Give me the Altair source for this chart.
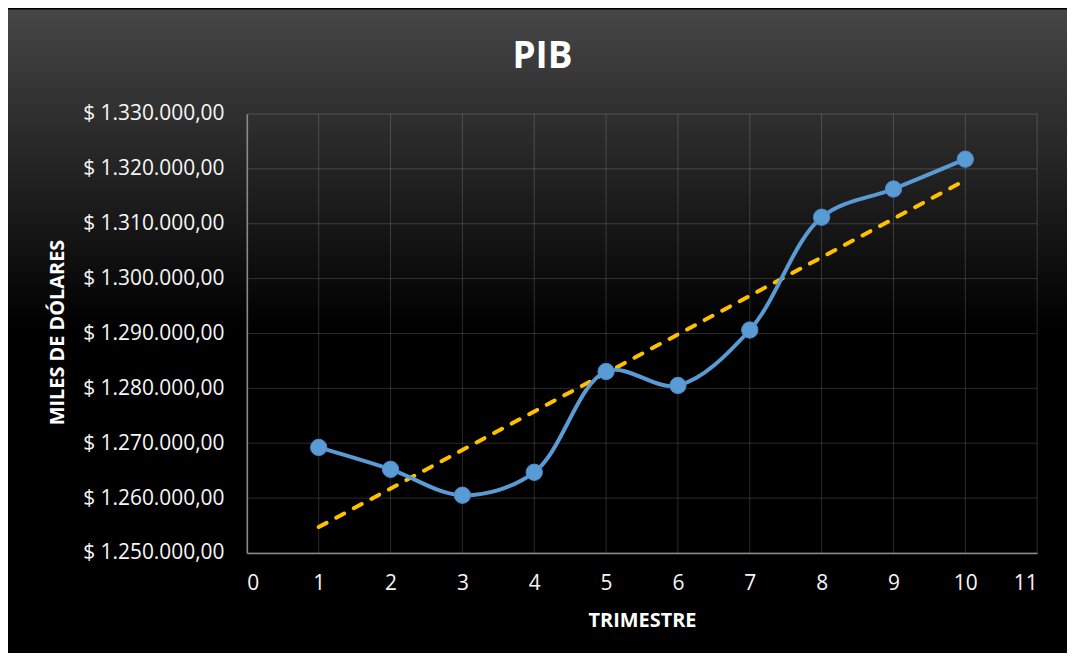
import altair as alt
import pandas as pd

# ---- data ----
trimestre = [1, 2, 3, 4, 5, 6, 7, 8, 9, 10]
pib = [1269230, 1265240, 1260520, 1264700, 1283070,
       1280530, 1290630, 1311190, 1316330, 1321770]
x_ticks = list(range(0, 12))
y_ticks = list(range(1250000, 1330001, 10000))

# ---- layout ----
W, H = 794, 441          # plot area
LEFT, TOP = 240, 105     # plot area offset inside the chart
TOTAL_W, TOTAL_H = 1064, 645
FONT = "Open Sans"

df = pd.DataFrame({"trimestre": trimestre, "pib": pib})

xscale = alt.Scale(domain=[0, 11], nice=False, zero=False)
yscale = alt.Scale(domain=[1250000, 1330000], nice=False, zero=False)

label_expr = ("'$ ' + replace(replace(replace(format(datum.value, ',.2f'), "
              "regexp(',', 'g'), '#'), regexp('[.]', 'g'), ','), regexp('#', 'g'), '.')")

xaxis = alt.Axis(values=x_ticks, grid=False, ticks=False, tickSize=0, zindex=1,
                 labelFont=FONT, labelFontSize=21, labelColor="#f7f7f7", labelPadding=20,
                 domainColor="#8a8a8a", domainWidth=1.5,
                 title="TRIMESTRE", titleFont=FONT, titleFontSize=20, titleFontWeight="bold",
                 titleColor="#ffffff", titleBaseline="middle", titleY=68)
yaxis = alt.Axis(values=y_ticks, grid=False, ticks=False, tickSize=0, zindex=1,
                 labelExpr=label_expr,
                 labelFont=FONT, labelFontSize=21, labelColor="#f7f7f7", labelPadding=23,
                 domainColor="#8a8a8a", domainWidth=1.5,
                 title="MILES DE DÓLARES", titleFont=FONT, titleFontSize=20,
                 titleFontWeight="bold", titleColor="#ffffff",
                 titleAngle=270, titleAlign="center", titleBaseline="middle",
                 titleX=-190, titleY=219)

X = alt.X("trimestre:Q", scale=xscale, axis=xaxis)
Y = alt.Y("pib:Q", scale=yscale, axis=yaxis)

one = pd.DataFrame({"t": ["PIB"]})

background = alt.Chart(one).mark_rect(
    fill=alt.LinearGradient(
        gradient="linear",
        stops=[alt.GradientStop(color="#464646", offset=0),
               alt.GradientStop(color="#000000", offset=0.5),
               alt.GradientStop(color="#000000", offset=1)],
        x1=0, x2=0, y1=0, y2=1),
).encode(x=alt.value(-LEFT), x2=alt.value(TOTAL_W - LEFT),
         y=alt.value(-TOP), y2=alt.value(TOTAL_H - TOP))

vgrid = alt.Chart(pd.DataFrame({"trimestre": x_ticks})).mark_rule(
    color="#ffffff", opacity=0.17, strokeWidth=1
).encode(x=X)

hgrid = alt.Chart(pd.DataFrame({"pib": y_ticks})).mark_rule(
    color="#ffffff", opacity=0.17, strokeWidth=1
).encode(y=Y)

trend = alt.Chart(df).transform_regression("trimestre", "pib").mark_line(
    color="#FFC000", strokeWidth=4, strokeDash=[9, 11], strokeCap="round"
).encode(x=X, y=Y)

line = alt.Chart(df).mark_line(
    color="#5B9BD5", strokeWidth=4, interpolate="catmull-rom"
).encode(x=X, y=Y)

points = alt.Chart(df).mark_circle(
    size=270, color="#5B9BD5", opacity=1, stroke="#4a8ccc", strokeWidth=1
).encode(x=X, y=Y)

title = alt.Chart(one).mark_text(
    font=FONT, fontSize=37, fontWeight="bold", color="#ffffff",
    align="center", baseline="middle"
).encode(text="t:N", x=alt.value(297), y=alt.value(-57))

chart = alt.layer(background, vgrid, hgrid, trend, line, points, title).properties(
    width=W, height=H, padding=0, background="#000000"
).configure_view(stroke=None)

chart.save("out.html", embed_options={"renderer": "svg", "actions": False})
